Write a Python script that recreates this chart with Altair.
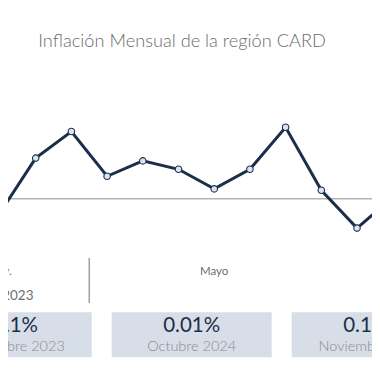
import altair as alt
import pandas as pd

# ---- data ----
month_idx = list(range(13))
month_names = ["Nov.", "Dic.", "Ene.", "Feb.", "Mar.", "Abr.", "Mayo",
               "Jun.", "Jul.", "Ago.", "Sep.", "Oct.", "Nov."]
inflation = [-0.10, 0.29, 0.48, 0.16, 0.27, 0.21, 0.07, 0.21, 0.51, 0.06, -0.21, 0.01, 0.13]

axis_month_idx = [0, 6]
axis_month_lbl = ["Nov.", "Mayo"]
year_pos = [0.5]
year_lbl = ["2023"]
year_sep = [2.5]

card_idx = [0, 1, 2]
card_value = ["-0.1%", "0.01%", "0.13%"]
card_label = ["Noviembre 2023", "Octubre 2024", "Noviembre 2024"]

TITLE = "Inflación Mensual de la región CARD"

FONT = "Lato"
NAVY = "#1b2f4b"

df = pd.DataFrame({"i": month_idx, "mes": month_names, "v": inflation})
df_ax = pd.DataFrame({"i": axis_month_idx, "t": axis_month_lbl})
df_yr = pd.DataFrame({"i": year_pos, "t": year_lbl})
df_sep = pd.DataFrame({"i": year_sep})
df_card = pd.DataFrame({"c": card_idx, "val": card_value, "lbl": card_label})
df_title = pd.DataFrame({"t": [TITLE]})

xs = alt.Scale(domain=[0.224, 10.420], nice=False, zero=False)
ys = alt.Scale(domain=[-1.295, 1.362], nice=False, zero=False)

X = alt.X("i:Q", scale=xs, axis=None)
Y = alt.Y("v:Q", scale=ys, axis=None)

base = alt.Chart(df)
zero = base.mark_rule(color="#b3b3b3", strokeWidth=1.6).encode(
    y=alt.Y("z:Q", scale=ys, axis=None)
).transform_aggregate(n="count()").transform_calculate(z="0")
line = base.mark_line(color=NAVY, strokeWidth=3, clip=True).encode(x=X, y=Y)
pts = base.mark_point(filled=True, fill="#dbe4ef", stroke=NAVY, strokeWidth=1.1,
                      size=42, opacity=1, clip=True).encode(x=X, y=Y)

ax_lbl = alt.Chart(df_ax).mark_text(font=FONT, fontSize=11.5, color="#6e6e6e",
                                    baseline="middle").encode(
    x=X, y=alt.value(264), text="t:N")
yr_lbl = alt.Chart(df_yr).mark_text(font=FONT, fontSize=13.5, color="#6e6e6e",
                                    baseline="middle").encode(
    x=X, y=alt.value(287.7), text="t:N")
sep = alt.Chart(df_sep).mark_rule(color="#a0a0a0", strokeWidth=1.5).encode(
    x=X, y=alt.value(250), y2=alt.value(295))

cs = alt.Scale(domain=[-0.02056, 2.0017], nice=False, zero=False)
cbase = alt.Chart(df_card).transform_calculate(x0="datum.c - 0.4444", x1="datum.c + 0.4444")
cards = cbase.mark_rect(color="#d7dee8").encode(
    x=alt.X("x0:Q", scale=cs, axis=None), x2="x1:Q",
    y=alt.value(304.3), y2=alt.value(349.3))
cval = cbase.mark_text(font=FONT, fontSize=20.5, color=NAVY, baseline="middle").encode(
    x=alt.X("c:Q", scale=cs, axis=None), y=alt.value(318), text="val:N")
clbl = cbase.mark_text(font=FONT, fontSize=14.5, fontWeight=300, color="#8c8c8c",
                       baseline="middle").encode(
    x=alt.X("c:Q", scale=cs, axis=None), y=alt.value(338.5), text="lbl:N")

title = alt.Chart(df_title).mark_text(font=FONT, fontSize=18.2, fontWeight=300,
                                      color="#6b6b6b", baseline="alphabetic").encode(
    x=alt.value(174), y=alt.value(38.5), text="t:N")

chart = alt.layer(zero, line, pts, ax_lbl, yr_lbl, sep, cards, cval, clbl, title).resolve_scale(
    x="independent", y="independent"
).properties(
    width=364, height=372,
    autosize=alt.AutoSizeParams(type="none"),
    padding=0,
    background="white",
).configure_view(stroke=None)

chart.save("out.html", embed_options={"renderer": "svg", "actions": False})
